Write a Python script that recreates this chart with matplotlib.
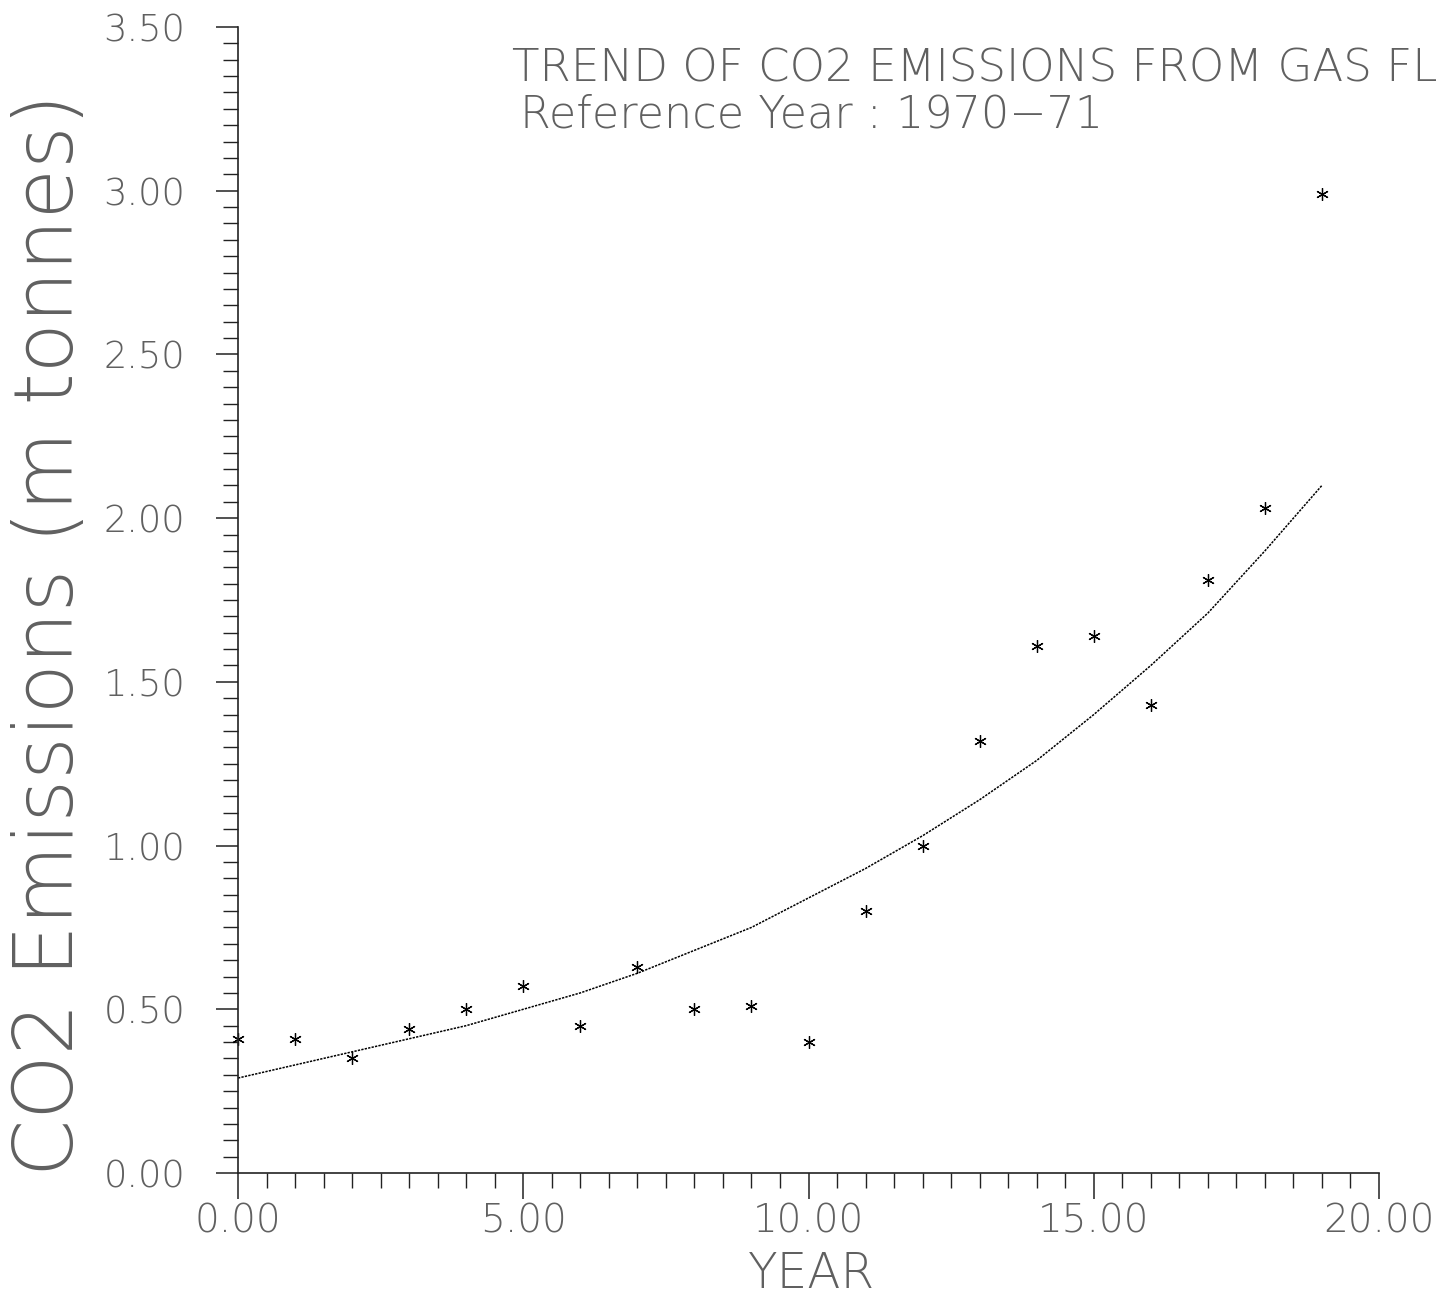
import numpy as np
import matplotlib.pyplot as plt
from matplotlib.ticker import MultipleLocator

# data
years = list(range(20))
emissions = [0.41, 0.41, 0.35, 0.44, 0.50, 0.57, 0.45, 0.63, 0.50, 0.51,
             0.40, 0.80, 1.00, 1.32, 1.61, 1.64, 1.43, 1.81, 2.03, 2.99]
trend = [0.29, 0.33, 0.37, 0.41, 0.45, 0.50, 0.55, 0.61, 0.68, 0.75,
         0.84, 0.93, 1.03, 1.14, 1.26, 1.40, 1.55, 1.71, 1.90, 2.10]
x_ticks = [0, 5, 10, 15, 20]
y_ticks = [0, 0.5, 1.0, 1.5, 2.0, 2.5, 3.0, 3.5]

txt = dict(family="DejaVu Sans", fontweight="light", color="#606060")

fig = plt.figure(figsize=(14.36, 12.98), dpi=100)
ax = fig.add_axes([238 / 1436, 1 - 1173 / 1298, (1379 - 238) / 1436, (1173 - 27) / 1298])

ax.plot(years, trend, color="black", lw=1.1, ls=(0, (1.5, 0.8)))
ax.plot(years, emissions, ls="none", marker=(6, 2, 0), ms=9, mew=0.9,
        color="black", clip_on=False)

ax.set_xlim(0, 20)
ax.set_ylim(0, 3.5)
for s in ["top", "right"]:
    ax.spines[s].set_visible(False)
for s in ["left", "bottom"]:
    ax.spines[s].set_linewidth(1.2)
    ax.spines[s].set_color("#222222")

ax.set_xticks(x_ticks)
ax.set_xticklabels(["%.2f" % v for v in x_ticks], **txt, fontsize=28)
ax.set_yticks(y_ticks)
ax.set_yticklabels(["%.2f" % v for v in y_ticks], **txt, fontsize=26.5)
ax.xaxis.set_minor_locator(MultipleLocator(0.5))
ax.yaxis.set_minor_locator(MultipleLocator(0.05))
ax.tick_params(axis="x", which="major", length=19, width=1.1, pad=2, color="#222222")
ax.tick_params(axis="x", which="minor", length=11, width=1.0, color="#222222")
ax.tick_params(axis="y", which="major", length=16, width=1.1, pad=22, color="#222222")
ax.tick_params(axis="y", which="minor", length=11, width=1.0, color="#222222")

ax.set_xlabel("YEAR", **txt, fontsize=35)
ax.xaxis.label.set_va("baseline")
ax.xaxis.set_label_coords((812 - 238) / 1141, (1173 - 1288) / 1146)

ax.set_ylabel("CO2 Emissions (m tonnes)", **txt, fontsize=59)
ax.yaxis.label.set_va("baseline")
ax.yaxis.set_label_coords((73 - 238) / 1141, (1173 - 635) / 1146)

# the plotter sheet cuts the title off at the right edge
fig.text(512 / 1436, 1 - 82 / 1298, "TREND OF CO2 EMISSIONS FROM GAS FL",
         va="baseline", ha="left", fontsize=32.5, **txt)
fig.text(520 / 1436, 1 - 128 / 1298, "Reference Year : 1970\u221271",
         va="baseline", ha="left", fontsize=32, **txt)

fig.savefig("out.png", dpi=100, facecolor="white")
plt.close(fig)
